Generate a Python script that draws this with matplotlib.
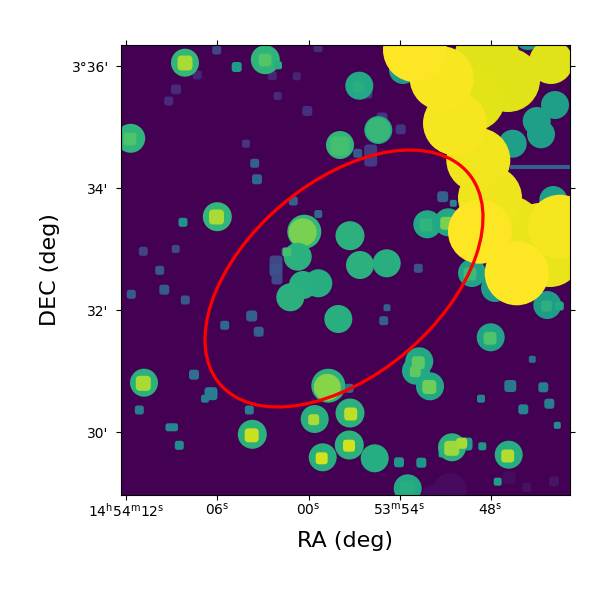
#!/usr/bin/env python
"""Segmentation style map of a sky field with a red elliptical aperture."""

import matplotlib
matplotlib.use('Agg')
import numpy as np
from matplotlib import pyplot as plt
from matplotlib.collections import PatchCollection
from matplotlib.colors import Normalize
from matplotlib.patches import Circle, Ellipse, FancyBboxPatch, Rectangle

# image frame, in image pixels (y runs downward)
x_range = (120.5, 570.0)
y_range = (495.0, 45.0)

# small faint sources
square_x = [216.7, 236.7, 197.3, 272.3, 296.7, 176.0, 168.7, 277.7, 307.3, 246.0, 254.7, 257.0, 293.3, 318.3, 183.0,
            143.3, 175.7, 159.7, 318.0, 286.0, 276.0, 276.0, 277.0, 131.3, 164.3, 185.3, 251.7, 224.7, 258.7, 194.0,
            211.0, 205.0, 139.3, 249.3, 169.5, 174.0, 179.3, 387.0, 383.7, 532.3, 510.3, 543.3, 481.0, 549.3, 523.3,
            557.3, 482.3, 399.0, 421.3, 497.7, 509.3, 526.7, 554.0, 349.0, 442.0, 466.0, 400.7, 382.0, 357.7, 370.7,
            370.7, 442.7, 453.3, 418.3, 367.0]
square_y = [50.0, 67.0, 75.0, 75.7, 76.3, 89.3, 101.0, 96.0, 111.0, 143.7, 163.3, 179.3, 201.0, 214.0, 222.3,
            251.3, 249.0, 270.3, 47.7, 252.0, 262.0, 270.0, 279.0, 294.3, 289.7, 300.0, 316.0, 325.3, 331.7, 374.7,
            393.7, 398.7, 410.0, 410.0, 427.3, 427.3, 445.3, 307.7, 320.7, 359.3, 386.0, 387.3, 398.7, 403.7, 409.3,
            425.3, 446.3, 462.3, 462.7, 481.7, 478.0, 487.3, 481.3, 388.3, 454.0, 444.0, 129.3, 118.0, 153.3, 151.0,
            160.0, 196.7, 203.3, 268.3, 93.0]
square_half = [4.0, 4.5, 4.0, 4.0, 3.5, 4.5, 4.0, 3.5, 4.5, 3.5, 4.0, 4.5, 4.0, 3.5, 4.0,
               4.0, 3.5, 4.0, 4.0, 4.0, 6.0, 6.0, 5.0, 4.0, 4.5, 4.0, 5.0, 4.0, 4.5, 4.5,
               6.0, 3.5, 4.0, 4.0, 3.5, 3.5, 4.0, 3.0, 4.0, 3.0, 5.5, 4.5, 3.5, 4.5, 4.5,
               3.0, 3.5, 4.5, 4.5, 3.5, 6.0, 4.0, 4.5, 4.0, 3.0, 6.0, 4.5, 5.0, 4.0, 6.0,
               6.0, 5.0, 3.0, 4.0, 5.0]
square_val = [0.20, 0.55, 0.10, 0.10, 0.10, 0.12, 0.12, 0.12, 0.14, 0.15, 0.30, 0.33, 0.30, 0.33, 0.50,
              0.20, 0.22, 0.27, 0.12, 0.20, 0.20, 0.24, 0.22, 0.28, 0.28, 0.27, 0.30, 0.33, 0.30, 0.37,
              0.42, 0.42, 0.42, 0.42, 0.46, 0.46, 0.48, 0.30, 0.30, 0.37, 0.40, 0.42, 0.45, 0.42, 0.45,
              0.48, 0.52, 0.52, 0.52, 0.56, 0.03, 0.04, 0.05, 0.35, 0.55, 0.55, 0.15, 0.15, 0.28, 0.17,
              0.17, 0.30, 0.45, 0.25, 0.15]

# long thin streak on the right edge
streak_x = (510.0, 570.0)
streak_y = 166.7
streak_thick = 4.0
streak_val = 0.30

# faint patch at the bottom edge
smudge_x = [450.0, 432.0]
smudge_y = [490.0, 495.0]
smudge_r = [17.0, 10.0]
smudge_val = [0.03, 0.03]

# medium round sources
disc_x = [185.0, 265.3, 130.7, 340.0, 217.3, 304.3, 302.7, 297.7, 350.0, 360.0, 386.7, 318.3, 303.0, 290.3, 338.3,
          144.0, 252.3, 328.3, 327.3, 314.7, 322.7, 350.0, 349.3, 374.7, 490.7, 419.3, 416.0, 430.0, 452.0, 508.7,
          407.7, 359.3, 378.3, 378.0, 555.0, 536.7, 541.0, 512.7, 427.3, 448.3, 553.3, 495.0, 472.0, 547.3, 403.0,
          528.0]
disc_y = [62.7, 59.7, 138.3, 145.0, 216.7, 231.7, 232.3, 256.7, 235.7, 265.0, 263.3, 283.3, 285.0, 297.3, 319.0,
          382.7, 434.3, 385.7, 387.3, 419.0, 457.3, 413.0, 445.0, 458.3, 337.3, 361.3, 370.7, 386.3, 447.3, 454.7,
          488.3, 85.7, 130.0, 130.0, 105.0, 121.0, 134.3, 143.7, 224.3, 222.3, 200.0, 288.0, 273.0, 305.0, 70.0,
          36.0]
disc_r = [14.0, 14.5, 14.5, 14.0, 14.5, 17.0, 14.0, 14.0, 14.5, 14.0, 14.0, 14.0, 14.0, 14.0, 14.0,
          14.0, 14.5, 17.0, 13.5, 14.0, 14.0, 14.5, 14.5, 14.0, 14.0, 14.0, 14.0, 14.0, 14.0, 14.0,
          14.0, 14.0, 14.0, 12.5, 14.0, 14.0, 14.0, 14.0, 14.0, 14.0, 14.0, 14.0, 14.0, 14.0, 14.0,
          14.0]
disc_val = [0.66, 0.65, 0.65, 0.66, 0.66, 0.66, 0.80, 0.64, 0.64, 0.64, 0.63, 0.62, 0.63, 0.64, 0.63,
            0.64, 0.64, 0.64, 0.82, 0.63, 0.63, 0.64, 0.64, 0.62, 0.58, 0.60, 0.60, 0.60, 0.64, 0.62,
            0.60, 0.60, 0.60, 0.67, 0.56, 0.56, 0.56, 0.56, 0.60, 0.60, 0.56, 0.55, 0.58, 0.55, 0.55,
            0.55]

# bright cores sitting on the discs
core_x = [185.0, 265.0, 130.0, 340.0, 216.5, 287.0, 143.3, 251.7, 313.7, 321.7, 350.7, 349.0, 490.0, 418.3, 415.3,
          429.3, 451.7, 461.7, 507.7, 407.0, 358.3, 426.0, 446.7, 470.0, 546.7, 559.3, 278.0]
core_y = [63.0, 60.0, 139.0, 146.0, 217.0, 252.0, 383.3, 435.3, 419.7, 458.3, 414.0, 445.7, 338.3, 362.7, 371.7,
          387.0, 448.3, 443.3, 456.0, 488.0, 86.7, 225.0, 223.3, 274.0, 306.0, 306.0, 65.3]
core_half = [7.0, 6.0, 6.0, 9.0, 7.0, 4.0, 7.0, 6.5, 5.0, 5.5, 6.0, 5.5, 6.0, 6.0, 5.0,
             6.5, 7.0, 5.0, 6.0, 7.0, 5.0, 6.0, 6.0, 6.0, 5.0, 4.0, 3.5]
core_val = [0.87, 0.73, 0.72, 0.70, 0.87, 0.70, 0.87, 0.92, 0.87, 0.93, 0.90, 0.93, 0.72, 0.75, 0.75,
            0.78, 0.85, 0.87, 0.88, 0.62, 0.63, 0.65, 0.80, 0.68, 0.64, 0.60, 0.62]

# large saturated sources, faintest first so the brightest stay on top
big_x = [551.0, 508.0, 487.0, 473.0, 540.0, 510.0, 550.0, 490.0, 478.3, 455.0, 560.0, 441.7, 415.0, 480.0, 516.7]
big_y = [62.0, 80.0, 55.0, 99.0, 235.0, 228.0, 255.0, 198.0, 160.0, 123.3, 226.7, 78.3, 50.0, 231.7, 273.3]
big_r = [22.0, 32.0, 32.0, 32.0, 32.0, 32.0, 32.0, 32.0, 32.0, 32.0, 32.0, 32.0, 32.0, 32.0, 32.0]
big_val = [0.95, 0.95, 0.95, 0.955, 0.96, 0.965, 0.965, 0.975, 0.98, 0.985, 0.985, 0.99, 1.0, 1.0, 1.0]

# aperture
ell_x, ell_y = 344.0, 278.5
ell_a, ell_b = 162.9, 96.4
ell_angle = -40.3

# sky ticks and how they land on the image
ra_ticks = [12, 6, 0, -6, -12]
ra_labels = [r'$14^{\mathrm{h}}54^{\mathrm{m}}12^{\mathrm{s}}$', r'$06^{\mathrm{s}}$', r'$00^{\mathrm{s}}$',
             r'$53^{\mathrm{m}}54^{\mathrm{s}}$', r'$48^{\mathrm{s}}$']
dec_ticks = [36, 34, 32, 30]
dec_labels = ["3\u00b036'", "34'", "32'", "30'"]
x_zero, x_per_sec = 308.5, 15.17
y_32, y_per_arcmin = 310.0, 61.0


def rounded_square(x, y, half):
    half = half + 0.5
    pad = half * 0.55
    side = 2 * (half - pad)
    return FancyBboxPatch((x - half + pad, y - half + pad), side, side, boxstyle='round,pad=%f' % pad)


def add_patches(ax, patches, values):
    coll = PatchCollection(patches, cmap='viridis', norm=Normalize(0, 1), linewidths=0, edgecolors='none')
    coll.set_array(np.asarray(values))
    ax.add_collection(coll)


fig = plt.figure(figsize=(6, 6), dpi=100)
ax = fig.add_axes([120.5 / 600, 105 / 600, 449.5 / 600, 450 / 600])
ax.set_facecolor(plt.get_cmap('viridis')(0.0))

add_patches(ax, [Circle((x, y), r) for x, y, r in zip(smudge_x, smudge_y, smudge_r)], smudge_val)
add_patches(ax, [rounded_square(x, y, h) for x, y, h in zip(square_x, square_y, square_half)], square_val)
add_patches(ax, [Rectangle((streak_x[0], streak_y - streak_thick / 2), streak_x[1] - streak_x[0], streak_thick)],
            [streak_val])
add_patches(ax, [Circle((x, y), r) for x, y, r in zip(disc_x, disc_y, disc_r)], disc_val)
add_patches(ax, [rounded_square(x, y, h) for x, y, h in zip(core_x, core_y, core_half)], core_val)
add_patches(ax, [Circle((x, y), r) for x, y, r in zip(big_x, big_y, big_r)], big_val)

ax.add_patch(Ellipse((ell_x, ell_y), 2 * ell_a, 2 * ell_b, angle=ell_angle, fill=False, edgecolor='red', linewidth=2.3))

ax.set_xlim(*x_range)
ax.set_ylim(*y_range)

ax.set_xticks([x_zero - x_per_sec * s for s in ra_ticks])
ax.set_xticklabels(ra_labels)
ax.set_yticks([y_32 - y_per_arcmin * (d - 32) for d in dec_ticks])
ax.set_yticklabels(dec_labels)
ax.tick_params(top=True, right=True, direction='out', length=3.5, labelsize=10)
ax.tick_params(axis='x', pad=1.4)
ax.tick_params(axis='y', pad=5)

ax.set_xlabel('RA (deg)', fontsize=16, labelpad=8)
ax.set_ylabel('DEC (deg)', fontsize=16, labelpad=8)

fig.savefig('out.png', dpi=100)
